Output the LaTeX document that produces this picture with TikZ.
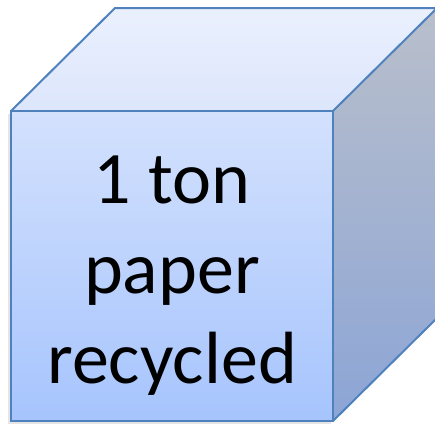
\documentclass[tikz,border=0pt]{standalone}
\usepackage{fontspec}
\setmainfont{Carlito}
\usetikzlibrary{shadows}
\definecolor{edgeblue}{HTML}{4F81BD}
\definecolor{fronttop}{HTML}{D3E1FD}
\definecolor{frontbot}{HTML}{A6C4FD}
\definecolor{toptop}{HTML}{EAF0FD}
\definecolor{topbot}{HTML}{DCE6FC}
\definecolor{righttop}{HTML}{B9BFCB}
\definecolor{rightbot}{HTML}{8CA5D6}
\tikzset{
  face/.style={draw=edgeblue, line width=2pt, line join=miter},
  cubetext/.style={anchor=base, inner sep=0pt, font=\fontsize{74}{90}\selectfont, text=black}
}
\begin{document}
\begin{tikzpicture}[x=1pt,y=-1pt]
\useasboundingbox (0,0) rectangle (435,424);
% soft shadow
\fill[black, opacity=0.10] (8,114) -- (8,424) -- (331,424) -- (331,114) -- cycle;
% front face
\shade[top color=fronttop, bottom color=frontbot] (11,111) rectangle (333,421);
% top face
\shade[top color=toptop, bottom color=topbot] (11,111) -- (115,8) -- (437,8) -- (333,111) -- cycle;
% right face
\shade[top color=righttop, bottom color=rightbot] (333,111) -- (437,8) -- (437,318) -- (333,421) -- cycle;
% edges
\draw[face] (11,111) rectangle (333,421);
\draw[face] (11,111) -- (115,8) -- (437,8) -- (333,111);
\draw[face] (437,8) -- (437,318) -- (333,421);
% text
\node[cubetext] (t1) at (172,203) {1 ton};
\node[cubetext] (t2) at (172,293) {paper};
\node[cubetext] (t3) at (172,383) {recycled};
\end{tikzpicture}
\end{document}
